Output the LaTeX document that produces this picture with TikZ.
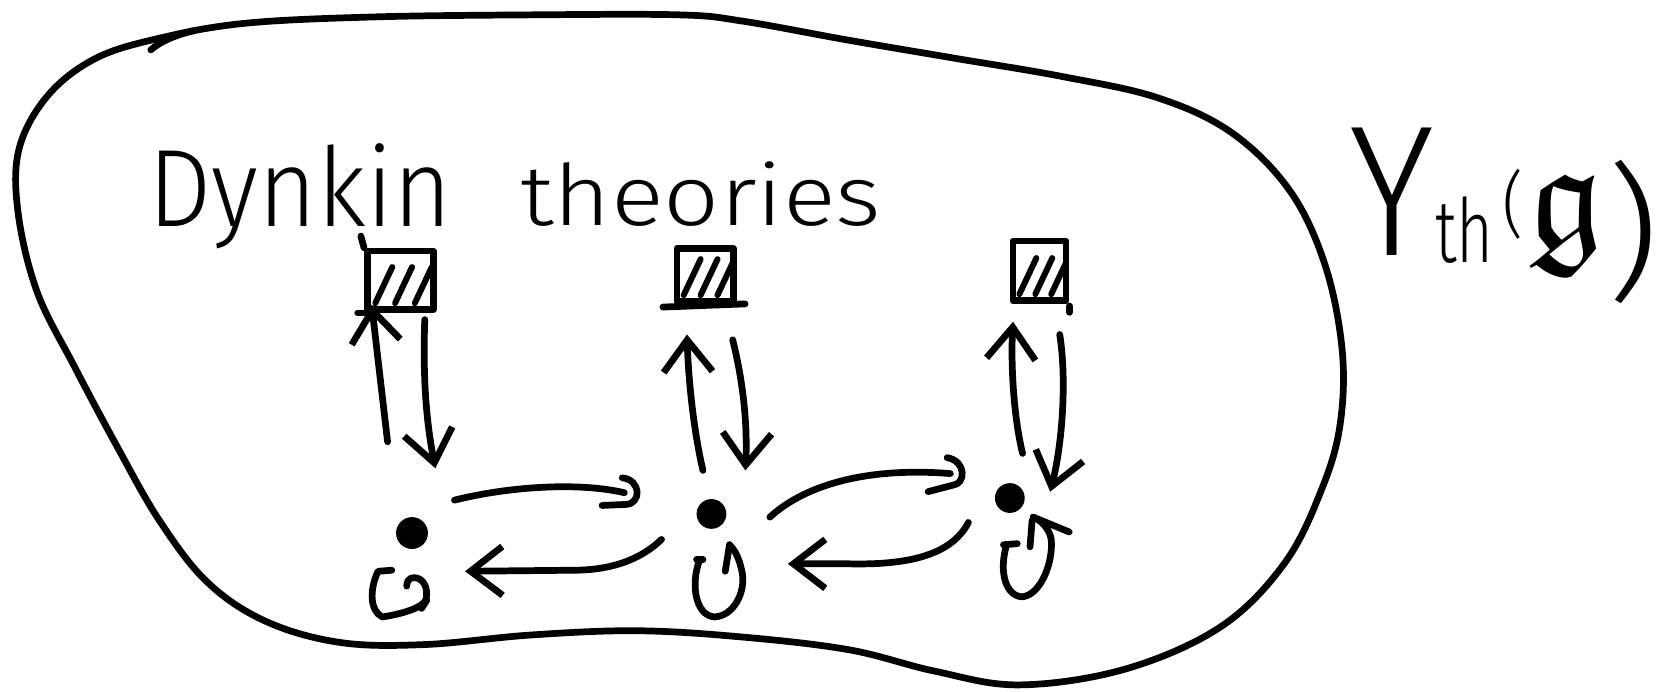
\documentclass[tikz,border=0pt]{standalone}
\usepackage{fontspec}
\usepackage{amssymb}
\usepackage{graphicx}
\newfontfamily\hand{Fira Sans Light}
\usetikzlibrary{arrows.meta,calc}
\begin{document}
\begin{tikzpicture}[x=0.01cm,y=-0.01cm,line width=1.8pt,line cap=round,line join=round,
  ln/.style={line width=1.8pt},
  arr/.style={ln,-{Straight Barb[length=0.3cm,width=0.46cm,line width=1.8pt]}},
  dot/.style={circle,fill=black,inner sep=0pt,minimum size=#1},
  box/.style={draw,line width=1.8pt,inner sep=0pt,
    path picture={\foreach \f in {0.12,0.42,0.72}{\draw[line width=1.6pt,line cap=round]
      ($(path picture bounding box.south west)!\f!(path picture bounding box.south east)+(0cm,0.06cm)$) -- ++(0.16cm,0.34cm);}}},
  lbl/.style={inner sep=0pt,outer sep=0pt}]
\useasboundingbox (0,0) rectangle (1568,651);

% blob
\draw[ln] plot[smooth cycle,tension=0.6] coordinates {
 (150,36) (230,22) (350,16) (500,14) (640,14) (700,20) (800,38) (900,55) (1000,72) (1090,92)
 (1160,125) (1215,180) (1248,250) (1264,330) (1262,400) (1245,460) (1210,530) (1150,590)
 (1060,630) (960,645) (880,632) (800,612) (700,600) (600,594) (500,598) (400,607) (320,605)
 (250,585) (195,548) (150,490) (110,420) (70,345) (35,275) (17,200) (18,140) (45,90) (90,55)};
\draw[ln] (142,47) .. controls (150,40) and (162,34) .. (182,29);

% title
\node[lbl,anchor=base west] (t1) at (140,213) {\resizebox{2.85cm}{0.78cm}{\hand Dynkin}};
\node[lbl,anchor=base west] (t2) at (490,212) {\resizebox{3.4cm}{0.6cm}{\hand theories}};

% label Yth(g)
\node[lbl] (yY) at (1311,181) {\resizebox{0.8cm}{1.2cm}{\hand Y}};
\node[lbl] (yth) at (1379,217) {\resizebox{0.55cm}{0.62cm}{\hand th}};
\node[lbl] (ylp) at (1425,192) {\resizebox*{0.2cm}{0.66cm}{\hand (}};
\node[lbl] (yg) at (1475,212) {\resizebox*{!}{0.95cm}{$\mathfrak{g}$}};
\node[lbl] (yrp) at (1538,218) {\resizebox*{0.5cm}{1.35cm}{\hand )}};

% boxes
\node[box,minimum width=0.62cm,minimum height=0.55cm] (b1) at (377,264) {};
\node[box,minimum width=0.53cm,minimum height=0.5cm] (b2) at (664,259) {};
\node[box,minimum width=0.5cm,minimum height=0.56cm] (b3) at (979,255) {};
\draw[ln] ([shift={(-6,0)}]b1.south west) -- (b1.south west);
\draw[ln] (b1.north west) -- ++(-3,-11);
\draw[ln] ([shift={(-10,2)}]b2.south west) -- ([shift={(8,-1)}]b2.south east);
\draw[ln] ([shift={(0,2)}]b3.south east) -- ++(0,6);

% dots
\node[dot=0.3cm] (d1) at (388,502) {};
\node[dot=0.28cm] (d2) at (670,484) {};
\node[dot=0.28cm] (d3) at (951,469) {};

% vertical arrows
\draw[arr] ([shift={(-23,-86)}]d1.center) -- ([shift={(-27,23)}]b1.center);
\draw[arr] ([shift={(23,37)}]b1.center) .. controls (398,360) and (402,400) .. ([shift={(22,-61)}]d1.center);
\draw[arr] ([shift={(-8,-41)}]d2.center) .. controls (652,400) and (648,350) .. ([shift={(-17,56)}]b2.center);
\draw[arr] ([shift={(26,61)}]b2.center) .. controls (700,360) and (704,400) .. ([shift={(32,-41)}]d2.center);
\draw[arr] ([shift={(12,-42)}]d3.center) .. controls (954,390) and (952,340) .. ([shift={(-25,48)}]b3.center);
\draw[arr] ([shift={(19,60)}]b3.center) .. controls (1005,360) and (1000,420) .. ([shift={(38,-6)}]d3.center);

% horizontal arrows
\draw[ln] ([shift={(40,-31)}]d1.center) .. controls (480,458) and (545,454) .. ([shift={(-82,-20)}]d2.center);
\draw[ln] (586,450) .. controls (604,452) and (604,474) .. (590,475) -- (567,476);
\draw[arr] ([shift={(-47,24)}]d2.center) .. controls (600,530) and (570,537) .. (540,537) -- ([shift={(50,36)}]d1.center);
\draw[ln] ([shift={(55,3)}]d2.center) .. controls (760,455) and (820,440) .. ([shift={(-56,-23)}]d3.center);
\draw[ln] (892,431) .. controls (910,434) and (910,456) .. (897,457) -- (874,463);
\draw[arr] ([shift={(-39,23)}]d3.center) .. controls (895,525) and (850,532) .. (800,531) -- ([shift={(72,47)}]d2.center);

% loops
\draw[ln] (369,537) -- (356,538) .. controls (348,555) and (348,575) .. (360,581)
  .. controls (380,578) and (398,572) .. (401,565) .. controls (404,553) and (398,544) .. (390,544)
  .. controls (385,544) and (383,548) .. (383,552);
\draw[ln] (397,573) -- (402,565);
\draw[ln] (656,527) -- (662,527);
\draw[ln] (659,527) .. controls (650,550) and (655,580) .. (673,581) .. controls (692,580) and (704,555) .. (698,535)
  .. controls (695,522) and (690,516) .. (687,513);
\draw[ln] (683,538) -- (687,513);
\draw[ln] (945,513) -- (958,512);
\draw[ln] (948,513) .. controls (940,540) and (948,562) .. (963,562) .. controls (980,560) and (992,530) .. (990,508)
  .. controls (988,497) and (980,490) .. (973,487);
\draw[ln] (970,515) -- (972,490);
\draw[ln] (973,487) -- (1007,501);
\end{tikzpicture}
\end{document}
